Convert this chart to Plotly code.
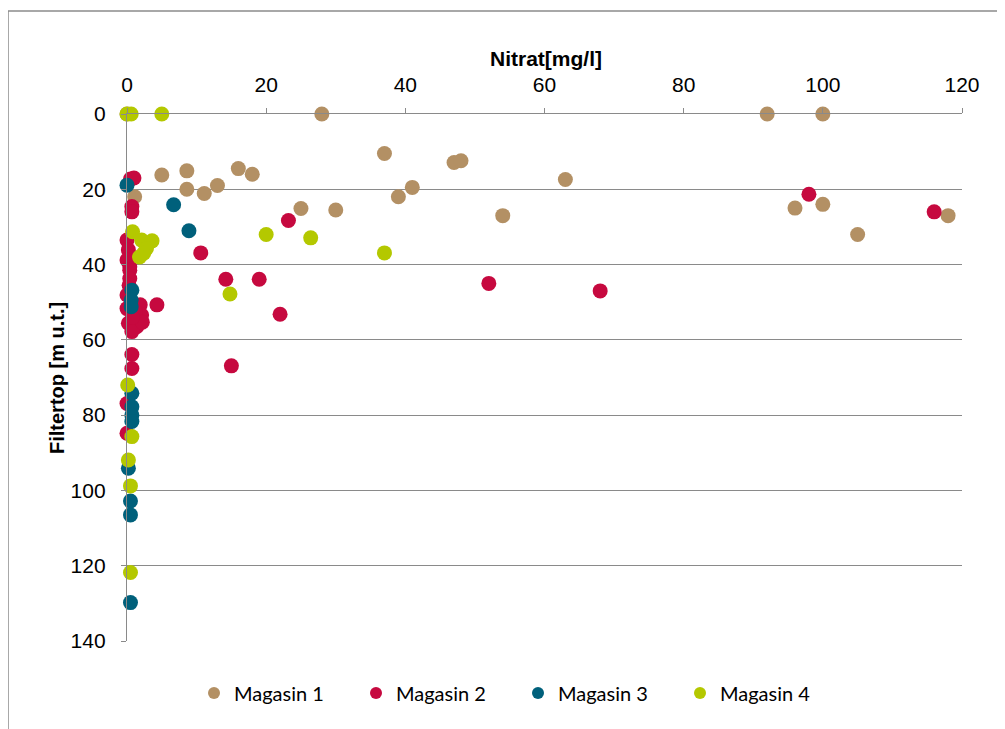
import plotly.graph_objects as go

# ---- data (Nitrat mg/l vs Filtertop m u.t.) ----
m1_x = [0.0, 28.0, 92.0, 100.0, 1.1, 5.0, 8.6, 8.6, 11.1, 13.0, 16.0, 18.0, 25.0, 30.0,
        37.0, 39.0, 41.0, 47.0, 48.0, 63.0, 54.0, 96.0, 100.0, 105.0, 118.0]
m1_y = [0.0, 0.0, 0.0, 0.0, 22.0, 16.2, 15.1, 20.0, 21.1, 19.0, 14.5, 16.0, 25.1, 25.5,
        10.5, 22.0, 19.5, 12.9, 12.4, 17.4, 27.0, 25.0, 24.0, 32.0, 27.0]

m2_x = [0.5, 1.0, 0.7, 0.7, 0.0, 0.2, 0.0, 0.4, 0.4, 0.4, 0.3, 0.0, 0.0, 1.9, 2.1, 0.2,
        1.4, 0.7, 1.2, 2.2, 0.8, 4.3, 0.7, 0.7, 0.0, 0.0, 23.2, 10.6, 14.2, 19.0, 22.0,
        15.0, 98.0, 116.0, 52.0, 68.0]
m2_y = [17.3, 17.0, 24.6, 26.0, 33.5, 36.1, 38.8, 40.6, 41.5, 43.7, 45.5, 48.1, 51.7,
        50.7, 53.4, 55.6, 56.5, 57.8, 52.5, 55.3, 54.0, 50.7, 63.9, 67.6, 76.9, 84.8,
        28.3, 36.9, 43.9, 43.9, 53.2, 66.9, 21.3, 26.0, 45.0, 47.0]

m3_x = [0.0, 6.7, 8.9, 0.7, 0.6, 0.6, 0.7, 0.7, 0.7, 0.7, 0.2, 0.5, 0.5, 0.5]
m3_y = [18.9, 24.1, 31.0, 46.8, 49.4, 51.2, 74.2, 77.8, 80.0, 81.7, 94.1, 102.8, 106.5, 129.8]

m4_x = [0.0, 0.6, 5.0, 0.8, 2.1, 3.6, 2.8, 2.4, 1.8, 20.0, 26.4, 37.0, 14.8, 0.1, 0.7,
        0.2, 0.5, 0.5]
m4_y = [0.0, 0.0, 0.0, 31.3, 33.5, 33.7, 35.7, 37.0, 38.0, 32.0, 32.9, 36.9, 47.8, 72.0,
        85.7, 91.9, 98.8, 121.8]

series_names = ["Magasin 1", "Magasin 2", "Magasin 3", "Magasin 4"]
series_colors = ["#B39064", "#C6093F", "#00607B", "#B4C800"]
x_ticks = [0, 20, 40, 60, 80, 100, 120]
y_ticks = [0, 20, 40, 60, 80, 100, 120, 140]

fig = go.Figure()
for name, xs, ys, col in zip(series_names, [m1_x, m2_x, m3_x, m4_x],
                             [m1_y, m2_y, m3_y, m4_y], series_colors):
    fig.add_trace(go.Scatter(x=xs, y=ys, mode="markers", name=name,
                             marker=dict(size=15, color=col, line=dict(width=0)),
                             cliponaxis=False))

grid = "#8A8A8A"
OFF = 8  # page body margin offset
W, H = 1005 - OFF, 729 - OFF
# screen-space plot area: x 127..962, y 114..641
L, T = 127 - OFF, 114 - OFF
R = W - (962 - OFF)
B = H - (641 - OFF)
pw, ph = W - L - R, H - T - B


def px_x(p):
    return (p - OFF - L) / pw


def px_y(p):
    return (H - B - (p - OFF)) / ph


fig.update_layout(
    width=W, height=H,
    margin=dict(l=L, r=R, t=T, b=B),
    paper_bgcolor="white", plot_bgcolor="white",
    font=dict(family="Liberation Sans, Arial, sans-serif", size=21, color="#000000"),
    showlegend=True,
    legend=dict(orientation="h", x=px_x(518), xanchor="center", y=px_y(693),
                yanchor="middle",
                font=dict(family="Lato, Carlito, sans-serif", size=20, color="#000000"),
                entrywidth=117, itemsizing="constant"),
    xaxis=dict(side="top", range=[0, 120], tickvals=x_ticks, showgrid=False,
               zeroline=False, showline=True, linecolor=grid, linewidth=1.3,
               ticks="outside", ticklen=5, tickcolor=grid, ticklabelstandoff=7),
    yaxis=dict(range=[140, 0], tickvals=y_ticks, showgrid=True, gridcolor=grid,
               gridwidth=1.3, zeroline=False, showline=True, linecolor=grid,
               linewidth=1.3, ticks="outside", ticklen=5, tickcolor=grid,
               ticklabelstandoff=11),
    annotations=[
        dict(text="<b>Nitrat[mg/l]</b>", xref="paper", yref="paper",
             x=px_x(546), y=px_y(58), xanchor="center", yanchor="middle",
             showarrow=False, font=dict(size=21)),
        dict(text="<b>Filtertop [m u.t.]</b>", xref="paper", yref="paper",
             x=px_x(57), y=px_y(378), xanchor="center", yanchor="middle",
             textangle=-90, showarrow=False, font=dict(size=20)),
    ],
    shapes=[dict(type="rect", xref="paper", yref="paper",
                 x0=px_x(8), x1=px_x(1020), y0=px_y(745), y1=px_y(11),
                 line=dict(color="#8C8C8C", width=1.5), fillcolor="rgba(0,0,0,0)",
                 layer="below")],
)

fig.write_html("out.html")
